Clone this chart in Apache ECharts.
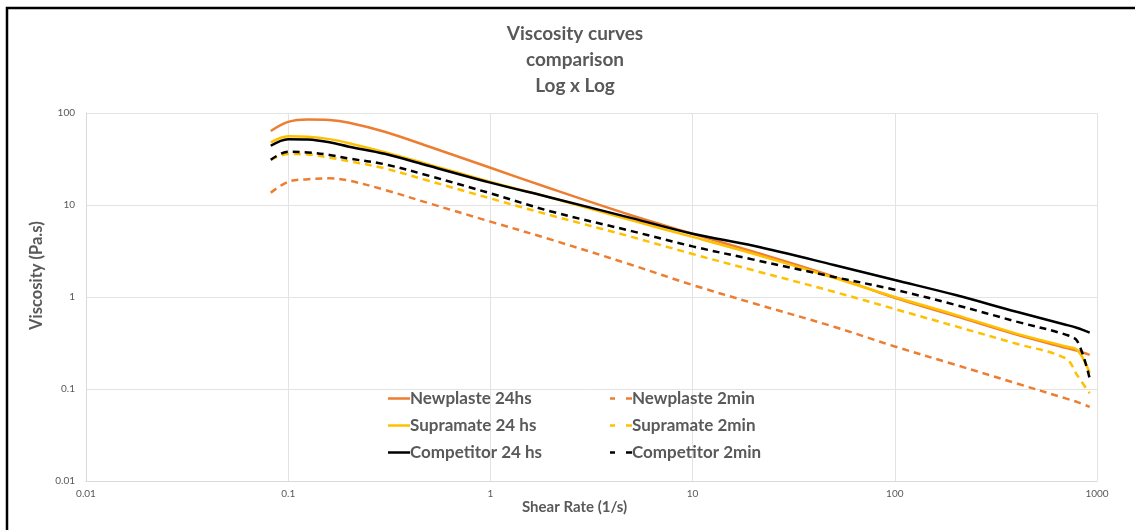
<!DOCTYPE html>
<html>
<head>
<meta charset="utf-8">
<script src="https://cdn.jsdelivr.net/npm/echarts@6/dist/echarts.min.js"></script>
<style>html,body{margin:0;padding:0;background:#fff}#c{width:1135px;height:530px}</style>
</head>
<body>
<div id="c"></div>
<script>
const shearRate = [0.082, 0.1, 0.125, 0.16, 0.2, 0.3, 0.5, 1, 2, 5, 10, 20, 50, 100, 200, 400, 700, 800, 920];
const newplaste24 = [63.7, 80, 85, 84, 78.5, 62.6, 43, 25.4, 15, 7.7, 4.87, 3.1, 1.66, 0.98, 0.62, 0.39, 0.28, 0.26, 0.235];
const supramate24 = [48, 56, 55.3, 52, 47, 37.5, 27.5, 17.8, 12, 6.8, 4.5, 2.95, 1.62, 1.0, 0.64, 0.40, 0.29, 0.265, 0.15];
const competitor24 = [44, 52, 51.5, 48, 43, 36, 26.5, 17.5, 12, 7.2, 4.87, 3.6, 2.23, 1.53, 1.05, 0.69, 0.50, 0.46, 0.41];
const newplaste2 = [13.6, 17.9, 19.1, 19.5, 18.4, 14.6, 10.4, 6.6, 4.2, 2.23, 1.35, 0.855, 0.475, 0.29, 0.183, 0.115, 0.079, 0.072, 0.064];
const supramate2 = [31, 35.8, 35.5, 32.7, 30, 25, 18.2, 11.8, 7.7, 4.5, 2.93, 1.95, 1.14, 0.74, 0.48, 0.31, 0.215, 0.14, 0.09];
const competitor2 = [31, 38, 37.3, 35, 32, 27.7, 20.7, 13.4, 8.5, 5.2, 3.55, 2.55, 1.65, 1.2, 0.82, 0.54, 0.39, 0.33, 0.13];
const xTicks = [0.01, 0.1, 1, 10, 100, 1000];
const yTicks = [0.01, 0.1, 1, 10, 100];

const FONT = 'Lato, "Open Sans", sans-serif';
const GREY = '#595959';
const SOLID_ICON = 'path://M0,0h22v2.5h-22z';
const DASH_ICON = 'path://M0,0h5v2.5h-5z M16,0h6v2.5h-6z';
const pairs = arr => shearRate.map((x, i) => [x, arr[i]]);
function mk(name, data, color, dashed) {
  return {
    name, type: 'line', data: pairs(data), smooth: 0.35,
    symbol: 'none', showSymbol: false,
    lineStyle: { color, width: 2.5, type: dashed ? [7, 5] : 'solid' },
    itemStyle: { color }
  };
}
const fmt = v => String(+Number(v).toPrecision(6));
const chart = echarts.init(document.getElementById('c'));
const legendBase = {
  orient: 'vertical', top: 385, itemGap: 10, itemWidth: 22, itemHeight: 2.5,
  textStyle: { fontFamily: FONT, fontSize: 17, fontWeight: 'bold', color: GREY, padding: [0, 0, 0, -5], height: 17, lineHeight: 17 }
};
chart.setOption({
  animation: false,
  backgroundColor: '#fff',
  title: {
    text: 'Viscosity curves\ncomparison\nLog x Log',
    left: 570, top: 16, textAlign: 'center',
    textStyle: { fontFamily: FONT, fontSize: 19, fontWeight: 'bold', color: GREY, lineHeight: 26 }
  },
  grid: { left: 86, right: 38, top: 113, bottom: 49 },
  legend: [
    Object.assign({ left: 383, data: [
      { name: 'Newplaste 24hs', icon: SOLID_ICON },
      { name: 'Supramate 24 hs', icon: SOLID_ICON },
      { name: 'Competitor 24 hs', icon: SOLID_ICON }] }, legendBase),
    Object.assign({ left: 605, data: [
      { name: 'Newplaste 2min', icon: DASH_ICON },
      { name: 'Supramate 2min', icon: DASH_ICON },
      { name: 'Competitor 2min', icon: DASH_ICON }] }, legendBase)
  ],
  xAxis: {
    type: 'log', logBase: 10, min: xTicks[0], max: xTicks[xTicks.length - 1],
    axisLine: { lineStyle: { color: '#d9d9d9', width: 1 } },
    axisTick: { show: false },
    splitLine: { show: true, lineStyle: { color: '#e3e3e3', width: 1 } },
    axisLabel: { formatter: fmt, color: GREY, fontSize: 10, fontFamily: FONT, margin: 8 }
  },
  yAxis: {
    type: 'log', logBase: 10, min: yTicks[0], max: yTicks[yTicks.length - 1],
    axisLine: { show: true, lineStyle: { color: '#d9d9d9', width: 1 } },
    axisTick: { show: false },
    splitLine: { show: true, lineStyle: { color: '#e3e3e3', width: 1 } },
    axisLabel: { formatter: fmt, color: GREY, fontSize: 10, fontFamily: FONT, margin: 11 }
  },
  graphic: [
    { type: 'rect', shape: { x: 7, y: 8, width: 1200, height: 600 }, style: { fill: 'none', stroke: '#000', lineWidth: 2.5 }, silent: true },
    { type: 'text', left: 522, top: 500, style: { text: 'Shear Rate (1/s)', fontFamily: FONT, fontSize: 15, fontWeight: 'bold', fill: GREY } },
    { type: 'text', x: 28, y: 330, rotation: Math.PI / 2, style: { text: 'Viscosity (Pa.s)', fontFamily: FONT, fontSize: 16.5, fontWeight: 'bold', fill: GREY } }
  ],
  series: [
    mk('Newplaste 24hs', newplaste24, '#ED7D31', false),
    mk('Newplaste 2min', newplaste2, '#ED7D31', true),
    mk('Supramate 24 hs', supramate24, '#FFC000', false),
    mk('Supramate 2min', supramate2, '#FFC000', true),
    mk('Competitor 24 hs', competitor24, '#000000', false),
    mk('Competitor 2min', competitor2, '#000000', true)
  ]
});
</script>
</body>
</html>
